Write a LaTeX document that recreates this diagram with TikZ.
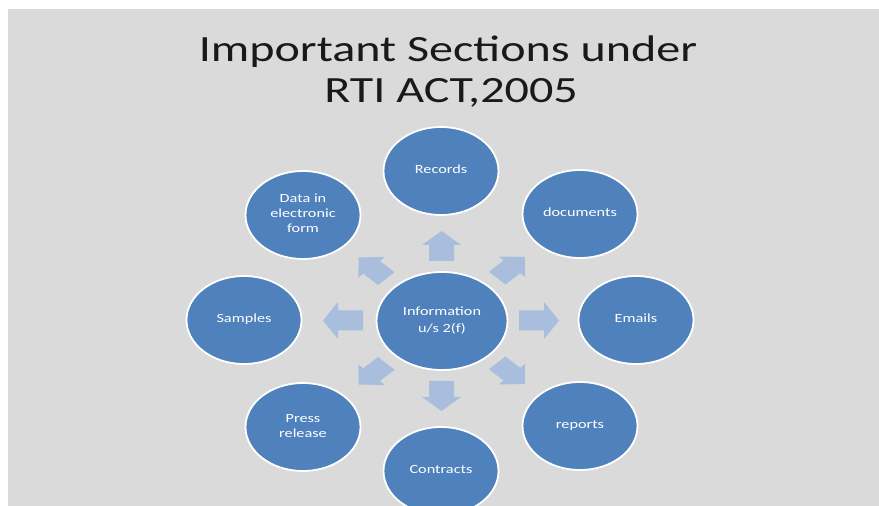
\documentclass[tikz,border=0pt]{standalone}
\usepackage{fontspec}
\setmainfont{Carlito}
\usepackage{graphicx}
\usetikzlibrary{shapes.geometric,calc}
\definecolor{bg}{HTML}{DADADA}
\definecolor{circ}{HTML}{4F81BD}
\definecolor{arr}{HTML}{A8BEDC}
\newcommand{\wtxt}[1]{\scalebox{1.3}[1]{\begin{tabular}{@{}c@{}}#1\end{tabular}}}
\newcommand{\barrow}[8]{%
  \begin{scope}[shift={#1}, xscale=#7, yscale=#8, rotate=#2]
    \fill[arr] (-#3/2,-#6) -- (#3/2-#4,-#6) -- (#3/2-#4,-#5) -- (#3/2,0)
      -- (#3/2-#4,#5) -- (#3/2-#4,#6) -- (-#3/2,#6) -- cycle;
  \end{scope}}
\begin{document}
\begin{tikzpicture}[x=1pt,y=1pt,
  bubble/.style={ellipse, fill=circ, draw=white, line width=1.8pt,
    minimum width=115pt, minimum height=88pt, inner sep=0pt, text=white,
    font=\fontsize{12.5}{15}\selectfont},
  hub/.style={bubble, minimum width=131pt, minimum height=98pt,
    font=\fontsize{12.5}{17}\selectfont},
  titletext/.style={anchor=base, inner sep=0pt, text=black!90,
    font=\fontsize{37}{41}\selectfont}]
\useasboundingbox (0,0) rectangle (879,506);
\clip (0,0) rectangle (879,506);
\fill[white] (0,0) rectangle (879,506);
\fill[bg] (8,0) rectangle (879,497);

\node[titletext] (t1) at (448,444) {\scalebox{1.3}[1]{Important Sections under}};
\node[titletext] (t2) at (451,403) {\scalebox{1.3}[1]{RTI ACT,2005}};

\node[hub]    (info)      at (442,185) {\wtxt{Information\\u/s 2(f)}};
\node[bubble] (records)   at (441,335) {\wtxt{Records}};
\node[bubble] (data)      at (303,291) {\wtxt{Data in\\electronic\\form}};
\node[bubble] (documents) at (580,292) {\wtxt{documents}};
\node[bubble] (samples)   at (244,186) {\wtxt{Samples}};
\node[bubble] (emails)    at (636,186) {\wtxt{Emails}};
\node[bubble] (press)     at (303,79)  {\wtxt{Press\\release}};
\node[bubble] (reports)   at (580,80)  {\wtxt{reports}};
\node[bubble] (contracts) at (441,35)  {\wtxt{Contracts}};

% straight arrows
\barrow{($(info)!0.5!(records)$)}{90}{30}{14}{19.5}{12.5}{1}{1}
\barrow{($(info)!0.5!(contracts)$)}{-90}{30}{14}{19.5}{12.5}{1}{1}
\barrow{($(info)!0.5!(samples)$)}{180}{40}{15}{18.5}{10}{1}{1}
\barrow{($(info)!0.5!(emails)$)}{0}{40}{15}{18.5}{10}{1}{1}
% diagonal arrows
\barrow{($(info)!0.5!(data)$)}{135}{30}{14}{14.5}{9}{1.3}{1}
\barrow{($(info)!0.5!(documents)$)}{45}{30}{14}{14.5}{9}{1.3}{1}
\barrow{($(info)!0.5!(press)$)}{225}{30}{14}{14.5}{9}{1.3}{1}
\barrow{($(info)!0.5!(reports)$)}{-45}{30}{14}{14.5}{9}{1.3}{1}
\end{tikzpicture}
\end{document}
